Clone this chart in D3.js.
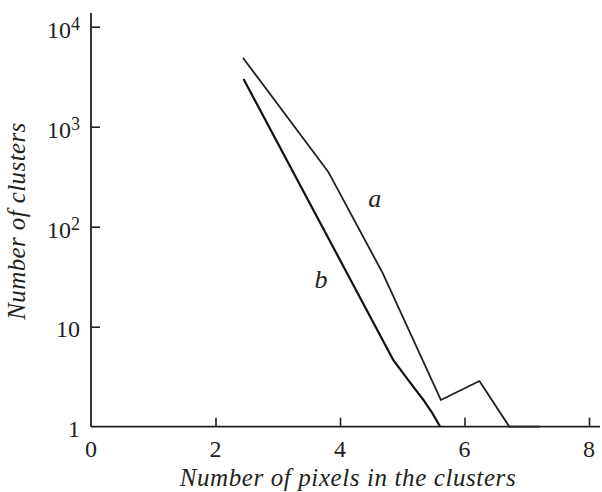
<!DOCTYPE html>
<html>
<head>
<meta charset="utf-8">
<script src="https://cdn.jsdelivr.net/npm/d3@7"></script>
<style>
  html, body { margin: 0; padding: 0; background: #fff; }
</style>
</head>
<body>
<svg id="chart" width="602" height="492"></svg>
<script>
// Cluster-size distributions: number of pixels in a cluster vs. count
const xTicks = [0, 2, 4, 6, 8];
const yTicks = [1, 10, 100, 1000, 10000];
const yTickLabels = [["1", ""], ["10", ""], ["10", "2"], ["10", "3"], ["10", "4"]];

const pixelsA = [2.44, 3.81, 4.69, 5.62, 6.24, 6.72, 7.21];
const countsA = [4900, 355, 34, 1.85, 2.86, 1, 1];

const pixelsB = [2.45, 4.86, 5.10, 5.34, 5.47, 5.61];
const countsB = [3000, 4.6, 2.9, 1.85, 1.41, 1];

const curveLabels = [
  { text: "a", x: 4.56, y: 185 },
  { text: "b", x: 3.695, y: 28.6 }
];

const ink = "#231f20";
const serif = "'Liberation Serif', 'Times New Roman', Times, serif";
const svg = d3.select("#chart").attr("font-family", serif);

const x = d3.scaleLinear().domain([0, 8]).range([91, 589]);
const y = d3.scaleLog().domain([1, 10000]).range([426.7, 26.7]);

// axis lines
svg.append("line").attr("x1", x(0)).attr("x2", 600)
  .attr("y1", y(1)).attr("y2", y(1))
  .attr("stroke", ink).attr("stroke-width", 1.8);
svg.append("line").attr("x1", x(0)).attr("x2", x(0))
  .attr("y1", y(1)).attr("y2", 13)
  .attr("stroke", ink).attr("stroke-width", 1.8);

// inward ticks
const xAxis = d3.axisBottom(x).tickValues(xTicks.slice(1)).tickSizeInner(-9).tickSizeOuter(0).tickFormat("");
const gx = svg.append("g").attr("transform", `translate(0,${y(1)})`).call(xAxis);
const yAxis = d3.axisLeft(y).tickValues(yTicks.slice(1)).tickSizeInner(-9).tickSizeOuter(0).tickFormat("");
const gy = svg.append("g").attr("transform", `translate(${x(0)},0)`).call(yAxis);
[gx, gy].forEach(g => {
  g.select(".domain").remove();
  g.selectAll(".tick line").attr("stroke", ink).attr("stroke-width", 1.6);
});

// x tick labels
svg.append("g").selectAll("text").data(xTicks).join("text")
  .attr("x", d => x(d)).attr("y", 457)
  .attr("text-anchor", "middle").attr("font-size", 24).attr("font-family", serif).attr("fill", ink)
  .text(d => d);

// y tick labels with superscript exponents
const yl = svg.append("g").selectAll("text").data(yTicks).join("text")
  .attr("x", 80).attr("y", (d, i) => y(d) + (yTickLabels[i][1] ? 11.5 : 10))
  .attr("text-anchor", "end").attr("font-size", 24).attr("font-family", serif).attr("fill", ink);
yl.each(function (d, i) {
  const t = d3.select(this);
  const [base, exp] = yTickLabels[i];
  t.append("tspan").text(base);
  if (exp) t.append("tspan").attr("font-size", 18).attr("dy", -8).text(exp);
});

// axis titles
svg.append("text").attr("x", 348).attr("y", 486)
  .attr("text-anchor", "middle").attr("font-size", 25).attr("font-style", "italic")
  .attr("letter-spacing", 0.6)
  .attr("font-family", serif).attr("fill", ink).text("Number of pixels in the clusters");
svg.append("text").attr("transform", "translate(25,221) rotate(-90)")
  .attr("text-anchor", "middle").attr("font-size", 25).attr("font-style", "italic")
  .attr("letter-spacing", 0.4)
  .attr("font-family", serif).attr("fill", ink).text("Number of clusters");

// curves
const line = d3.line().x(d => x(d[0])).y(d => y(d[1]));
svg.append("path").datum(d3.zip(pixelsA, countsA)).attr("d", line)
  .attr("fill", "none").attr("stroke", ink).attr("stroke-width", 1.8).attr("stroke-linejoin", "round");
svg.append("path").datum(d3.zip(pixelsB, countsB)).attr("d", line)
  .attr("fill", "none").attr("stroke", "#111").attr("stroke-width", 2.2).attr("stroke-linejoin", "round");

// curve labels
svg.append("g").selectAll("text").data(curveLabels).join("text")
  .attr("x", d => x(d.x)).attr("y", d => y(d.y) + 7)
  .attr("text-anchor", "middle").attr("font-size", 26).attr("font-style", "italic")
  .attr("font-family", serif).attr("fill", ink).text(d => d.text);
</script>
</body>
</html>
